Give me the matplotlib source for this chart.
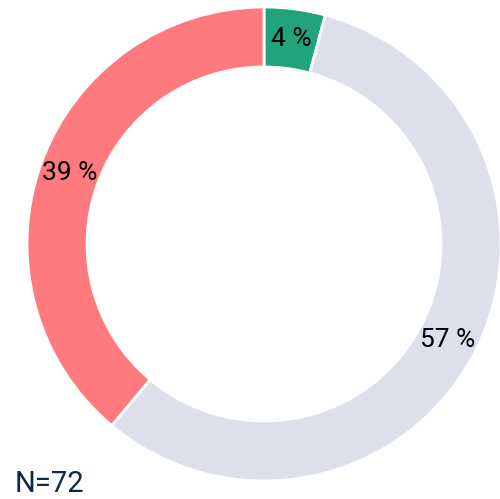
import matplotlib
matplotlib.use("Agg")
import matplotlib.pyplot as plt
import numpy as np

labels = ["A", "B", "C"]
counts = [3, 41, 28]
pct_labels = ["4 %", "57 %", "39 %"]
colors = ["#21a47b", "#dddfeb", "#ff7a7f"]
n_text = "N=72"

plt.rcParams['font.family'] = ['Roboto', 'DejaVu Sans']

fig = plt.figure(figsize=(5.0, 4.99), dpi=100)
ax = fig.add_axes([27/500, 18/499, 474/500, 474/499])
wedges, _ = ax.pie(counts, colors=colors, startangle=90, counterclock=False,
                   radius=1.0,
                   wedgeprops=dict(width=60/237, edgecolor="white", linewidth=2))
for w in wedges:
    w.set_clip_on(False)

total = sum(counts)
start = 90.0
rmid = 1 - 30/237
for c, lab in zip(counts, pct_labels):
    ang = start - c/total*360/2
    start -= c/total*360
    x = rmid*np.cos(np.radians(ang))
    y = rmid*np.sin(np.radians(ang))
    ax.text(x, y, lab, ha="center", va="center", fontsize=19, color="black")

ax.set_xlim(-1, 1)
ax.set_ylim(-1, 1)
ax.set_aspect("equal")
ax.axis("off")

fig.text(15/500, 1 - 492/499, n_text, fontsize=21, color="#0d2a4b", ha="left", va="baseline")

fig.savefig("out.png", dpi=100)
